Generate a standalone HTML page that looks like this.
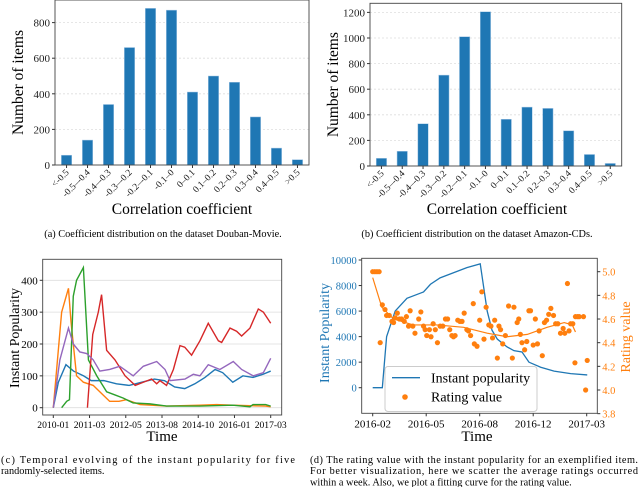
<!DOCTYPE html>
<html><head><meta charset="utf-8"><style>
body{margin:0;background:#fff;width:640px;height:487px;overflow:hidden}
svg{display:block;font-family:"Liberation Serif",serif}
</style></head><body>
<svg id="s" width="640" height="487" xmlns="http://www.w3.org/2000/svg"></svg>
<script>
const cats=["<-0.5","-0.5–-0.4","-0.4–-0.3","-0.3–-0.2","-0.2–-0.1","-0.1–0","0–0.1","0.1–0.2","0.2–0.3","0.3–0.4","0.4–0.5",">0.5"];
const doubanCounts=[55,140,340,660,880,870,410,500,465,270,95,30];
const amazonCounts=[60,115,330,710,1010,1205,365,460,450,275,90,20];
const ticksA=[0,200,400,600,800];
const ticksB=[0,200,400,600,800,1000,1200];
const timeTicksC=["2010-01","2011-03","2012-05","2013-08","2014-10","2016-01","2017-03"];
const popTicksC=[0,100,200,300,400];
const blueM=[0,2,5,8,12,15,20,25,30,35,40,44,48,52,56,60,64,67,71,75,79,83,86];
const blueV=[0,80,135,115,100,85,85,75,70,80,90,85,65,60,75,95,120,110,80,100,95,105,115];
const orangeM=[0,3.3,6,7,9.2,11.9,15.8,19.7,22.3,26,28.9,34.3,44.8,58,64.6,71,84,86];
const orangeV=[0,300,375,270,100,80,70,40,20,20,25,10,5,8,10,8,5,3];
const greenM=[3.3,5.3,6.4,7.9,9.2,11.9,13.9,17.2,21.1,24.4,27.7,31.6,38.2,44.8,58,71,77.8,79,84,86];
const greenV=[0,20,25,350,400,440,150,100,50,40,30,15,12,5,5,8,3,10,10,5];
const redM=[13.5,15.6,17.8,19.1,21.1,24.4,28.4,32.4,35.6,38.9,40.9,42.2,44.8,47.5,50.1,52,54.7,58,61.3,65.3,66.6,69.9,72.5,74.5,77.8,81.1,83.1,86];
const redV=[0,230,300,355,180,150,100,70,80,90,75,85,70,120,195,190,165,210,265,210,205,250,240,225,250,310,300,265];
const purpleM=[0,2.6,6,7.9,10.5,13.2,15.8,18.4,22.3,26.3,31.6,35.6,40.9,44.2,46.2,52.1,55.4,58,61.3,65.9,71.2,74.5,79.1,83.1,86];
const purpleV=[0,150,250,200,175,170,150,115,120,130,100,130,145,120,85,90,105,100,135,120,145,120,100,110,155];
const timeTicksD=["2016-02","2016-05","2016-08","2016-12","2017-03"];
const popTicksD=[0,2000,4000,6000,8000,10000];
const ratTicksD=[3.8,4.0,4.2,4.4,4.6,4.8,5.0];
const popT=[0,0.18,0.26,0.42,0.64,0.89,0.95,1.08,1.26,1.51,1.76,2.01,2.14,2.23,2.33,2.51,2.64,2.79,2.92,3.14,3.39,3.7,4.01];
const popV=[0,0,4000,6000,7000,7400,7500,8100,8600,9000,9400,9700,6000,4500,3800,3200,2900,2800,2000,1600,1300,1100,1000];
const fitT=[0,0.17,0.39,0.76,1.2,1.7,2.14,2.51,2.89,3.26,3.58,3.73,3.79];
const fitV=[4.95,4.7,4.6,4.55,4.55,4.53,4.48,4.45,4.47,4.53,4.57,4.55,4.49];
const rateT=[0,0.04,0.08,0.12,0.14,0.18,0.23,0.26,0.31,0.36,0.39,0.42,0.46,0.5,0.54,0.59,0.63,0.67,0.7,0.75,0.79,0.86,0.9,0.95,0.98,1.01,1.06,1.09,1.13,1.17,1.21,1.26,1.31,1.36,1.4,1.44,1.48,1.51,1.54,1.59,1.63,1.67,1.71,1.76,1.79,1.83,1.88,1.9,1.95,2.0,2.04,2.08,2.12,2.17,2.21,2.24,2.28,2.33,2.36,2.39,2.43,2.48,2.54,2.61,2.64,2.7,2.73,2.76,2.79,2.84,2.88,2.92,2.95,3.0,3.04,3.08,3.11,3.17,3.21,3.25,3.29,3.33,3.38,3.42,3.46,3.51,3.56,3.59,3.64,3.67,3.7,3.74,3.78,3.79,3.83,3.86,3.94,3.98,4.01];
const rateV=[5.0,5.0,5.0,5.0,4.4,4.72,4.68,4.63,4.63,4.58,4.57,4.61,4.65,4.6,4.6,4.58,4.62,4.54,4.67,4.54,4.48,4.6,4.66,4.54,4.51,4.46,4.51,4.45,4.56,4.51,4.4,4.54,4.54,4.6,4.6,4.51,4.46,4.45,4.46,4.59,4.58,4.58,4.65,4.51,4.5,4.46,4.73,4.39,4.37,4.59,4.83,4.43,4.7,4.55,4.54,4.44,4.59,4.27,4.54,4.51,4.39,4.46,4.71,4.27,4.7,4.57,4.6,4.47,4.4,4.34,4.41,4.67,4.67,4.38,4.6,4.39,4.5,4.29,4.57,4.59,4.64,4.69,4.63,4.56,4.56,4.48,4.52,4.48,4.9,4.5,4.56,4.56,4.23,4.62,4.62,4.62,4.62,4.0,4.25];

const S=document.getElementById('s');const NS="http://www.w3.org/2000/svg";
function el(t,a,p){const e=document.createElementNS(NS,t);for(const k in a)e.setAttribute(k,a[k]);(p||S).appendChild(e);return e;}
function txt(x,y,s,sz,o,p){const e=el('text',Object.assign({x:x,y:y,'font-size':sz},o||{}),p);e.textContent=s;return e;}

function barChart(name,L,R,T,B,vals,ticks,ymax,xlabX,cap,capX){
  const g=el('g',{});
  
  
  const y=v=>B-v*(B-T)/ymax;
  const n=vals.length,step=(R-L)/(n+0.1),x0=L+step*0.55;
  const X=i=>x0+i*step;
  ticks.forEach(t=>{
    const gl=el('line',{x1:L,x2:R,y1:y(t),y2:y(t),stroke:'#ddd','stroke-dasharray':'2,2','stroke-width':0.8},g);
    
    
    el('line',{x1:L-3,x2:L,y1:y(t),y2:y(t),stroke:'#333'},g);
    const tl=txt(L-5,y(t)+4,String(t),11,{'text-anchor':'end',fill:'#222'},g);
    
    
  });
  vals.forEach((v,i)=>{
    const b=el('rect',{x:X(i)-5.2,y:y(v),width:10.4,height:B-y(v),fill:'#1f77b4',stroke:'#a6c8e6','stroke-width':0.5},g);
    
    
    el('line',{x1:X(i),x2:X(i),y1:B,y2:B+3,stroke:'#333'},g);
    const tl=txt(X(i)+3,B+8,cats[i],9.5,{'text-anchor':'end',transform:`rotate(-45 ${X(i)+3} ${B+8})`,fill:'#222'},g);
    
    
  });
  const f=el('rect',{x:L,y:T,width:R-L,height:B-T,fill:'none',stroke:'#444','stroke-width':0.9},g);
  
  
  const yl=txt(0,0,'Number of items',15.5,{'text-anchor':'middle',transform:`translate(${L-32} ${(T+B)/2}) rotate(-90)`},g);
  
  
  const xl=txt(xlabX,214,'Correlation coefficient',15.5,{'text-anchor':'middle'},g);
  
  
  const c=txt(capX,237,cap,10.3,{'text-anchor':'middle'},g);
  
  
}
barChart('chart-douban',55,309,0,165,doubanCounts,ticksA,927,182,'(a)  Coefficient distribution on the dataset Douban-Movie.',163);
barChart('chart-amazon',370,621.7,3.3,166,amazonCounts,ticksB,1271,497,'(b)  Coefficient distribution on the dataset Amazon-CDs.',477);

// (c)
(function(){
  const L=42.7,R=281.7,T=259.3,B=415;
  const g=el('g',{});
  
  
  const X=m=>53.3+m*(270.7-53.3)/86, Y=v=>407.7-v*(407.7-280.3)/400;
  popTicksC.forEach(t=>{
    el('line',{x1:L,x2:R,y1:Y(t),y2:Y(t),stroke:'#ddd','stroke-width':0.8},g);
    el('line',{x1:L-3,x2:L,y1:Y(t),y2:Y(t),stroke:'#333'},g);
    const tl=txt(L-5,Y(t)+4,String(t),11,{'text-anchor':'end'},g);
    
    
  });
  timeTicksC.forEach((t,i)=>{const x=X(i*86/6);
    el('line',{x1:x,x2:x,y1:B,y2:B+3,stroke:'#333'},g);
    const tl=txt(x,B+13,t,9.6,{'text-anchor':'middle'},g);
    
    
  });
  const series=[[blueM,blueV,'#1f77b4','line-blue-item'],[orangeM,orangeV,'#ff7f0e','line-orange-item'],[greenM,greenV,'#2ca02c','line-green-item'],[redM,redV,'#d62728','line-red-item'],[purpleM,purpleV,'#9467bd','line-purple-item']];
  series.forEach(s=>{
    const p=el('polyline',{points:s[0].map((m,i)=>X(m)+','+Y(s[1][i])).join(' '),fill:'none',stroke:s[2],'stroke-width':1.4},g);
    
    
  });
  const f=el('rect',{x:L,y:T,width:R-L,height:B-T,fill:'none',stroke:'#444','stroke-width':0.9},g);
  
  
  const yl=txt(0,0,'Instant Popularity',14,{'text-anchor':'middle',transform:`translate(19 338) rotate(-90)`},g);
  
  
  const xl=txt(162,441,'Time',15,{'text-anchor':'middle'},g);
  
  
  const c1=txt(1,463,'(c)  Temporal  evolving  of  the  instant  popularity  for  five',10.3,{textLength:294,lengthAdjust:'spacing'},g);
  
  
  const c2=txt(1,474,'randomly-selected items.',10.3,{},g);
  
  
})();

// (d)
(function(){
  const L=361.7,R=597.3,T=258.3,B=413.3;
  const g=el('g',{});
  
  
  const X=t=>372.7+t*(586.7-372.7)/4, YP=v=>387.7-v*127.7/10000, YR=r=>271.7+(5-r)*118.3;
  popTicksD.forEach(t=>{
    el('line',{x1:L-3,x2:L,y1:YP(t),y2:YP(t),stroke:'#333'},g);
    const tl=txt(L-5,YP(t)+4,String(t),10.5,{'text-anchor':'end',fill:'#1f77b4'},g);
    
    
  });
  ratTicksD.forEach(t=>{
    el('line',{x1:R,x2:R+3,y1:YR(t),y2:YR(t),stroke:'#333'},g);
    const tl=txt(R+5,YR(t)+4,t.toFixed(1),10.5,{fill:'#ff7f0e'},g);
    
    
  });
  timeTicksD.forEach((t,i)=>{
    el('line',{x1:X(i),x2:X(i),y1:B,y2:B+3,stroke:'#333'},g);
    const tl=txt(X(i),B+14,t,11,{'text-anchor':'middle'},g);
    
    
  });
  const pl=el('polyline',{points:popT.map((t,i)=>X(t)+','+YP(popV[i])).join(' '),fill:'none',stroke:'#1f77b4','stroke-width':1.3},g);
  
  
  const fl=el('polyline',{points:fitT.map((t,i)=>X(t)+','+YR(fitV[i])).join(' '),fill:'none',stroke:'#ff7f0e','stroke-width':1.2},g);
  
  
  rateT.forEach((t,i)=>{
    const c=el('circle',{cx:X(t),cy:YR(rateV[i]),r:2.6,fill:'#ff7f0e'},g);
    
    
  });
  const lg=el('g',{},g);
  
  
  el('rect',{x:385,y:366.5,width:152,height:45,fill:'rgba(255,255,255,0.85)',stroke:'#ccc',rx:3},lg);
  el('line',{x1:392,x2:420,y1:377.7,y2:377.7,stroke:'#1f77b4','stroke-width':1.4},lg);
  const l1=txt(431,382.5,'Instant popularity',14,{},lg);
  
  
  el('circle',{cx:405,cy:397,r:2.8,fill:'#ff7f0e'},lg);
  const l2=txt(431,401.5,'Rating value',14,{},lg);
  
  
  const f=el('rect',{x:L,y:T,width:R-L,height:B-T,fill:'none',stroke:'#444','stroke-width':0.9},g);
  
  
  const yl=txt(0,0,'Instant Popularity',14,{'text-anchor':'middle',fill:'#1f77b4',transform:`translate(329 333) rotate(-90)`},g);
  
  
  const yr=txt(0,0,'Rating value',14,{'text-anchor':'middle',fill:'#ff7f0e',transform:`translate(630 337) rotate(-90)`},g);
  
  
  const xl=txt(477,441,'Time',15,{'text-anchor':'middle'},g);
  
  
  const lines=['(d)  The rating value with the instant popularity for an exemplified item.','For better visualization, here we scatter the average ratings occurred','within a week. Also, we plot a fitting curve for the rating value.'];
  lines.forEach((s,i)=>{
    const c=txt(310,463+i*11.2,s,10.3,i<2?{textLength:328,lengthAdjust:'spacing'}:{},g);
    
    
  });
})();
</script>
</body></html>
